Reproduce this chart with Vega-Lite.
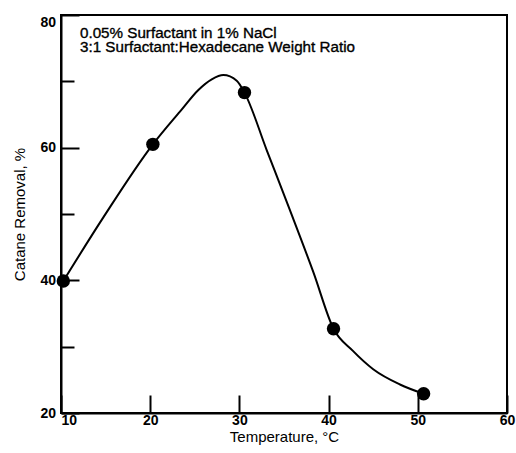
{
  "$schema": "https://vega.github.io/schema/vega-lite/v6.json",
  "width": 446,
  "height": 398,
  "autosize": {"type": "none"},
  "padding": {"left": 61, "top": 15, "right": 9, "bottom": 40},
  "background": "white",
  "config": {
    "font": "Liberation Sans",
    "view": {"stroke": "black", "strokeWidth": 2},
    "axis": {
      "domainColor": "black",
      "domainWidth": 2,
      "tickColor": "black",
      "tickWidth": 2,
      "labelColor": "black",
      "titleColor": "black",
      "labelFont": "Liberation Sans",
      "titleFont": "Liberation Sans",
      "labelFontSize": 14,
      "labelFontWeight": "bold",
      "titleFontSize": 15,
      "titleFontWeight": "normal",
      "grid": false
    }
  },
  "datasets": {
    "curve": [
      {"t": 10.26, "r": 39.9}, {"t": 14.8, "r": 49.6}, {"t": 20.3, "r": 60.5},
      {"t": 23.5, "r": 65.7}, {"t": 25.4, "r": 68.7}, {"t": 26.9, "r": 70.3},
      {"t": 28.2, "r": 70.95}, {"t": 29.7, "r": 70.1}, {"t": 30.57, "r": 68.3},
      {"t": 33.07, "r": 59.6}, {"t": 35.6, "r": 50.8}, {"t": 38.3, "r": 41.2},
      {"t": 40.55, "r": 32.7}, {"t": 42.7, "r": 29.4},
      {"t": 45.0, "r": 26.6}, {"t": 48.0, "r": 24.3}, {"t": 50.65, "r": 22.9}
    ],
    "points": [
      {"t": 10.26, "r": 39.9}, {"t": 20.3, "r": 60.5}, {"t": 30.57, "r": 68.3},
      {"t": 40.55, "r": 32.7}, {"t": 50.65, "r": 22.9}
    ],
    "notes": [
      {"note": "0.05% Surfactant in 1% NaCl\n3:1 Surfactant:Hexadecane Weight Ratio"}
    ]
  },
  "layer": [
    {
      "data": {"name": "curve"},
      "mark": {"type": "line", "interpolate": "monotone", "color": "black", "strokeWidth": 2, "clip": false},
      "encoding": {
        "x": {
          "field": "t", "type": "quantitative",
          "scale": {"domain": [10, 60], "nice": false, "zero": false},
          "axis": {
            "values": [10, 20, 30, 40, 50, 60],
            "tickSize": -18,
            "labelPadding": 18,
            "labelAlign": {"condition": {"test": "datum.value == 10", "value": "left"}, "value": "center"},
            "title": "Temperature, °C",
            "titleColor": "black",
            "titlePadding": 2
          }
        },
        "y": {
          "field": "r", "type": "quantitative",
          "scale": {"domain": [20, 80], "nice": false, "zero": false},
          "axis": {
            "values": [20, 40, 60, 80],
            "tickSize": -18,
            "labelPadding": 23.5,
            "labelBaseline": {"condition": {"test": "datum.value == 80", "value": "top"}, "value": "middle"},
            "title": "Catane Removal, %",
            "titleColor": "black",
            "titlePadding": 12
          }
        }
      }
    },
    {
      "data": {"name": "points"},
      "mark": {"type": "circle", "size": 180, "color": "black", "opacity": 1, "clip": false},
      "encoding": {
        "x": {"field": "t", "type": "quantitative"},
        "y": {
          "field": "r", "type": "quantitative",
          "axis": {
            "orient": "left",
            "values": [30, 50, 70],
            "tickSize": -13,
            "labels": false,
            "domain": false,
            "title": null
          }
        }
      }
    },
    {
      "data": {"name": "notes"},
      "mark": {"type": "text", "align": "left", "baseline": "alphabetic", "lineBreak": "\n", "lineHeight": 14.6, "fontSize": 15.2, "font": "Liberation Sans", "color": "black", "stroke": "black", "strokeWidth": 0.35},
      "encoding": {
        "x": {"datum": 12.13, "type": "quantitative"},
        "y": {"datum": 76.6, "type": "quantitative", "axis": null},
        "text": {"field": "note"}
      }
    }
  ],
  "resolve": {"axis": {"y": "independent"}}
}
